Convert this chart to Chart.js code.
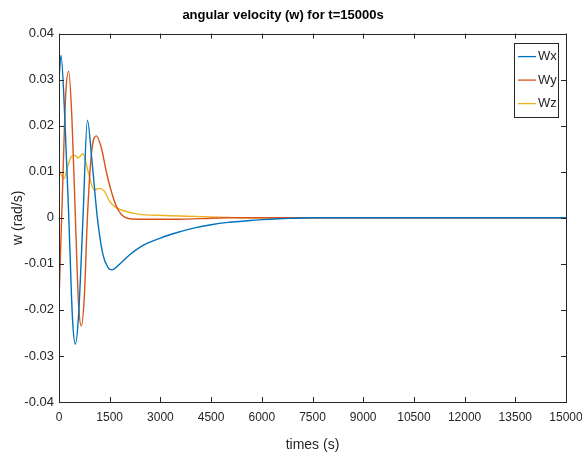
<!DOCTYPE html>
<html lang="en">
<head>
    <meta charset="UTF-8">
    <title>angular velocity (w) for t=15000s</title>
    <script src="https://cdn.jsdelivr.net/npm/chart.js"></script>
    <style>
        html, body {
            margin: 0;
            padding: 0;
            background: #fff;
        }
        .chart-box {
            width: 582px;
            height: 461px;
        }
    </style>
</head>
<body>
    <div class="chart-box">
        <canvas id="omegaChart" width="582" height="461"></canvas>
    </div>

    <script>
        // values
        const seriesNames = ['Wx', 'Wy', 'Wz'];

        const wxTimes = [0, 60, 170, 290, 400, 485, 580, 710, 840, 980, 1135, 1300, 1450, 1568, 1700, 1850, 2000, 2438, 3000, 3500, 4015, 4500, 5000, 5500, 6000, 6500, 7000, 7500, 8000, 15000];
        const wxValues = [0.030, 0.0353, 0.022, 0, -0.022, -0.0274, -0.021, 0, 0.0212, 0.012, 0, -0.0080, -0.0108, -0.0113, -0.0107, -0.0097, -0.0086, -0.0062, -0.0044, -0.0032, -0.0022, -0.0015, -0.0010, -0.0007, -0.0004, -0.0002, -0.0001, 0, 0, 0];

        const wyTimes = [0, 100, 200, 287, 380, 485, 580, 663, 750, 840, 960, 1107, 1253, 1400, 1549, 1697, 1846, 2100, 2500, 3500, 4500, 5000, 15000];
        const wyValues = [-0.018, 0.005, 0.027, 0.0318, 0.022, 0, -0.019, -0.0235, -0.017, 0, 0.014, 0.0178, 0.0152, 0.0100, 0.0057, 0.0025, 0.0007, -0.0002, -0.0003, -0.0003, -0.0001, 0, 0];

        const wzTimes = [0, 150, 250, 366, 465, 563, 710, 859, 1036, 1203, 1352, 1500, 1697, 1846, 2338, 3128, 4000, 5000, 6000, 15000];
        const wzValues = [0.0103, 0.0085, 0.0110, 0.0133, 0.0136, 0.0130, 0.0139, 0.0101, 0.0061, 0.0064, 0.0057, 0.0035, 0.0022, 0.0017, 0.0008, 0.0005, 0.0003, 0.0001, 0, 0];

        const xTicks = [0, 1500, 3000, 4500, 6000, 7500, 9000, 10500, 12000, 13500, 15000];
        const yTicks = [-0.04, -0.03, -0.02, -0.01, 0, 0.01, 0.02, 0.03, 0.04];

        const lineColors = ['#0072BD', '#D95319', '#EDB120'];
        const axisColor = '#262626';
        const labelFont = "'Liberation Sans', Arial, sans-serif";

        function toPoints(times, values) {
            return times.map((t, i) => ({ x: t, y: values[i] }));
        }

        // box, inward ticks on all four sides and the legend inside the axes
        const matlabFrame = {
            id: 'matlabFrame',
            afterDraw(chart) {
                const ctx = chart.ctx;
                const area = chart.chartArea;
                const xs = chart.scales.x;
                const ys = chart.scales.y;
                const tickLen = 5;

                ctx.save();
                ctx.strokeStyle = axisColor;
                ctx.lineWidth = 1;
                ctx.strokeRect(Math.round(area.left) + 0.5, Math.round(area.top) + 0.5,
                    Math.round(area.right - area.left), Math.round(area.bottom - area.top));

                ctx.beginPath();
                xTicks.forEach(v => {
                    const px = Math.round(xs.getPixelForValue(v)) + 0.5;
                    ctx.moveTo(px, area.bottom);
                    ctx.lineTo(px, area.bottom - tickLen);
                    ctx.moveTo(px, area.top);
                    ctx.lineTo(px, area.top + tickLen);
                });
                yTicks.forEach(v => {
                    const py = Math.round(ys.getPixelForValue(v)) + 0.5;
                    ctx.moveTo(area.left, py);
                    ctx.lineTo(area.left + tickLen, py);
                    ctx.moveTo(area.right, py);
                    ctx.lineTo(area.right - tickLen, py);
                });
                ctx.stroke();

                // legend
                const boxW = 44, boxH = 74;
                const bx = area.right - 8 - boxW;
                const by = area.top + 9;
                ctx.fillStyle = '#fff';
                ctx.fillRect(bx, by, boxW, boxH);
                ctx.strokeStyle = axisColor;
                ctx.strokeRect(Math.round(bx) + 0.5, Math.round(by) + 0.5, boxW, boxH);

                ctx.font = '13px ' + labelFont;
                ctx.textBaseline = 'middle';
                ctx.textAlign = 'left';
                chart.data.datasets.forEach((ds, i) => {
                    const rowY = by + 14 + i * 23.5;
                    ctx.strokeStyle = ds.borderColor;
                    ctx.lineWidth = 1.3;
                    ctx.beginPath();
                    ctx.moveTo(bx + 4, rowY);
                    ctx.lineTo(bx + 22, rowY);
                    ctx.stroke();
                    ctx.fillStyle = axisColor;
                    ctx.fillText(ds.label, bx + 24, rowY);
                });
                ctx.restore();
            }
        };

        const ctx = document.getElementById('omegaChart').getContext('2d');
        new Chart(ctx, {
            type: 'line',
            data: {
                datasets: [
                    { label: seriesNames[0], data: toPoints(wxTimes, wxValues), borderColor: lineColors[0] },
                    { label: seriesNames[1], data: toPoints(wyTimes, wyValues), borderColor: lineColors[1] },
                    { label: seriesNames[2], data: toPoints(wzTimes, wzValues), borderColor: lineColors[2] }
                ]
            },
            options: {
                responsive: false,
                animation: false,
                layout: {
                    padding: { left: 0, right: 16, top: 0, bottom: 0 }
                },
                elements: {
                    point: { radius: 0 },
                    line: { borderWidth: 1.4, cubicInterpolationMode: 'monotone', fill: false }
                },
                plugins: {
                    legend: { display: false },
                    tooltip: { enabled: false },
                    title: {
                        display: true,
                        text: 'angular velocity (w) for t=15000s',
                        color: '#000',
                        font: { family: labelFont, size: 13, weight: 'bold' },
                        padding: { top: 8, bottom: 10 }
                    }
                },
                scales: {
                    x: {
                        type: 'linear',
                        min: 0,
                        max: 15000,
                        afterBuildTicks: scale => { scale.ticks = xTicks.map(v => ({ value: v })); },
                        afterFit: scale => {
                            scale.height = 59;
                            scale.paddingLeft = 0;
                            scale.paddingRight = 0;
                        },
                        grid: { display: false, drawTicks: false },
                        border: { display: false },
                        ticks: {
                            color: axisColor,
                            padding: 8,
                            maxRotation: 0,
                            autoSkip: false,
                            font: { family: labelFont, size: 12 },
                            callback: v => String(v)
                        },
                        title: {
                            display: true,
                            text: 'times (s)',
                            color: axisColor,
                            font: { family: labelFont, size: 14 },
                            padding: { top: 0, bottom: 7 }
                        }
                    },
                    y: {
                        min: -0.04,
                        max: 0.04,
                        afterBuildTicks: scale => { scale.ticks = yTicks.map(v => ({ value: v })); },
                        afterFit: scale => {
                            scale.width = 59;
                            scale.paddingTop = 0;
                            scale.paddingBottom = 0;
                        },
                        grid: { display: false, drawTicks: false },
                        border: { display: false },
                        ticks: {
                            color: axisColor,
                            padding: 5,
                            autoSkip: false,
                            font: { family: labelFont, size: 13 },
                            callback: v => String(Number(v.toFixed(2)))
                        },
                        title: {
                            display: true,
                            text: 'w (rad/s)',
                            color: axisColor,
                            font: { family: labelFont, size: 14 },
                            padding: { top: 10, bottom: 0 }
                        }
                    }
                }
            },
            plugins: [matlabFrame]
        });
    </script>
</body>
</html>
